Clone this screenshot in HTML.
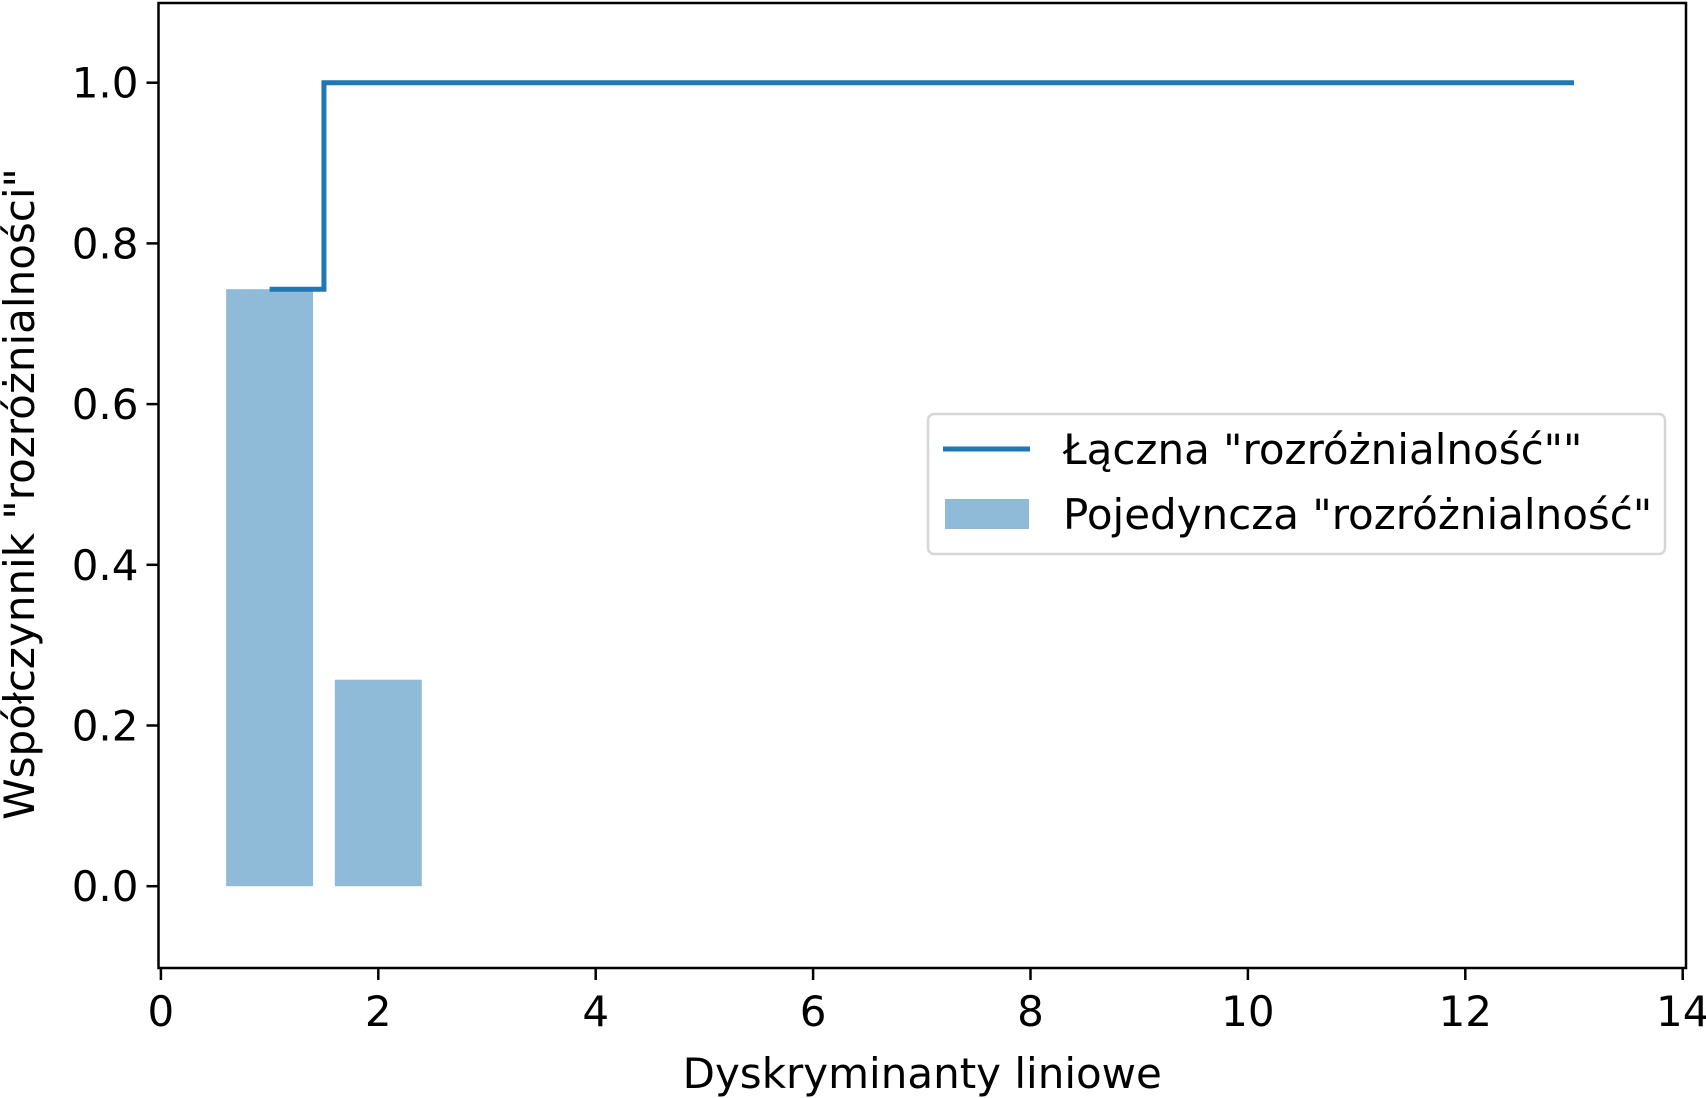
<!DOCTYPE html>
<html><head><meta charset="utf-8"><style>
html,body{margin:0;padding:0;background:#fff;}
svg{display:block;font-family:"DejaVu Sans","Liberation Sans",sans-serif;}
</style></head><body>
<svg id="chart" width="1706" height="1098" viewBox="0 0 1706 1098" xmlns="http://www.w3.org/2000/svg">
<g id="plot"></g>
</svg>
<script>
const categories = [1,2,3,4,5,6,7,8,9,10,11,12,13];
const individual = [0.743,0.257,0,0,0,0,0,0,0,0,0,0,0];
const cumulative = [0.743,1.0,1.0,1.0,1.0,1.0,1.0,1.0,1.0,1.0,1.0,1.0,1.0];
const xTicks = [0,2,4,6,8,10,12,14];
const yTicks = [0.0,0.2,0.4,0.6,0.8,1.0];

const NS="http://www.w3.org/2000/svg";
const g=document.getElementById('plot');
const L=158.5,R=1686,T=3,B=968;
const FS=42;
const X=v=>160.9+v*108.7;
const Y=v=>886.2-v*803.5;
function mk(t,a){const e=document.createElementNS(NS,t);for(const k in a)e.setAttribute(k,a[k]);g.appendChild(e);return e;}

categories.forEach((c,i)=>{
  if(individual[i]<=0)return;
  const r=mk('rect',{x:X(c-0.4),y:Y(individual[i]),width:X(c+0.4)-X(c-0.4),height:Y(0)-Y(individual[i]),fill:'#8fbbd9'});
  
  
});
let d='';
categories.forEach((c,i)=>{
  const y=Y(cumulative[i]);
  const x0=i===0?X(c):X(c-0.5), x1=i===categories.length-1?X(c):X(c+0.5);
  d+=(i===0?'M':'L')+x0+','+y+' L'+x1+','+y+' ';
});
const ln=mk('path',{d:d,fill:'none',stroke:'#1f77b4','stroke-width':5});



const fr=mk('rect',{x:L,y:T,width:R-L,height:B-T,fill:'none',stroke:'#000','stroke-width':2.5});



xTicks.forEach(v=>{
  mk('line',{x1:X(v),x2:X(v),y1:B,y2:B+12,stroke:'#000','stroke-width':2.5});
  const t=mk('text',{x:X(v),y:B+58,'font-size':FS,'text-anchor':'middle',fill:'#000'});
  t.textContent=v;
  
  
});
yTicks.forEach(v=>{
  mk('line',{x1:L-12,x2:L,y1:Y(v),y2:Y(v),stroke:'#000','stroke-width':2.5});
  const t=mk('text',{x:L-20,y:Y(v)+15,'font-size':FS,'text-anchor':'end',fill:'#000'});
  t.textContent=v.toFixed(1);
  
  
});
const xl=mk('text',{x:(L+R)/2,y:1088,'font-size':FS,'text-anchor':'middle',fill:'#000'});
xl.textContent='Dyskryminanty liniowe';


const yl=mk('text',{x:0,y:0,'font-size':FS,'text-anchor':'middle',fill:'#000',transform:'translate(34,494) rotate(-90)'});
yl.textContent='Współczynnik "rozróżnialności"';



const lg=mk('rect',{x:928,y:414,width:737,height:140,rx:6,fill:'#fff',stroke:'#d6d6d6','stroke-width':2.5});


mk('line',{x1:943,x2:1030,y1:449,y2:449,stroke:'#1f77b4','stroke-width':5});
mk('rect',{x:945,y:499,width:84,height:30,fill:'#8fbbd9'});
const t1=mk('text',{x:1063,y:464,'font-size':FS,fill:'#000'});
t1.textContent='Łączna "rozróżnialność""';


const t2=mk('text',{x:1063,y:529,'font-size':FS,fill:'#000'});
t2.textContent='Pojedyncza "rozróżnialność"';


</script>
</body></html>
